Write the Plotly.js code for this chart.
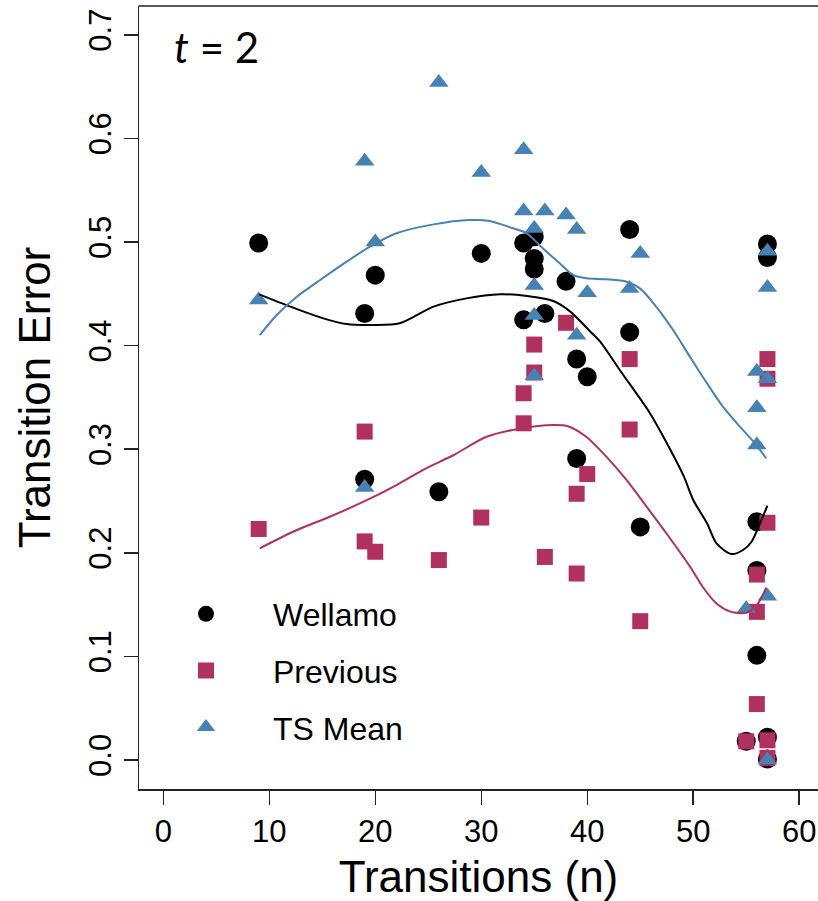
<!DOCTYPE html>
<html>
<head>
<meta charset="utf-8">
<script src="https://cdn.plot.ly/plotly-3.0.1.min.js"></script>
<style>html,body{margin:0;padding:0;background:#fff;}</style>
</head>
<body>
<div id="chart" style="width:818px;height:901px;"></div>
<script>
// ---- data ----
const wellamoX = [9, 19, 19, 20, 26, 30, 34, 34, 35, 35, 35, 36, 38, 39, 39, 40, 44, 44, 45, 55, 56, 56, 56, 57, 57, 57, 57];
const wellamoY = [0.499, 0.431, 0.271, 0.468, 0.259, 0.489, 0.499, 0.425, 0.505, 0.484, 0.474, 0.431, 0.462, 0.387, 0.291, 0.370, 0.512, 0.413, 0.225, 0.018, 0.230, 0.183, 0.101, 0.498, 0.485, 0.022, 0.001];

const previousX = [9, 19, 19, 20, 26, 30, 34, 34, 35, 35, 36, 38, 39, 39, 40, 44, 44, 45, 55, 56, 56, 56, 57, 57, 57, 57, 57];
const previousY = [0.223, 0.317, 0.211, 0.201, 0.193, 0.234, 0.354, 0.325, 0.401, 0.374, 0.196, 0.422, 0.257, 0.180, 0.276, 0.387, 0.319, 0.134, 0.018, 0.179, 0.143, 0.054, 0.387, 0.368, 0.229, 0.019, 0.002];

const tsMeanX = [9, 19, 19, 20, 26, 30, 34, 34, 35, 35, 35, 35, 36, 38, 39, 39, 40, 44, 45, 55, 56, 56, 56, 57, 57, 57, 57, 57];
const tsMeanY = [0.444, 0.578, 0.263, 0.500, 0.654, 0.567, 0.589, 0.530, 0.513, 0.458, 0.429, 0.371, 0.530, 0.526, 0.512, 0.410, 0.451, 0.455, 0.489, 0.146, 0.375, 0.340, 0.304, 0.491, 0.456, 0.368, 0.158, 0.000];

// smoothed curves
const wellamoFitX = [9.05, 12, 15.1, 17.3, 19.8, 22.3, 25.5, 28.6, 31.8, 34.3, 36.8, 38.4, 40.3, 41.2, 43.1, 45.9, 47.5, 49.1, 50, 51.3, 52.2, 53.6, 54.7, 55.5, 56.3, 57];
const wellamoFitY = [0.4495, 0.4376, 0.4263, 0.4208, 0.4199, 0.4215, 0.4376, 0.4456, 0.4495, 0.4479, 0.443, 0.4328, 0.4134, 0.404, 0.376, 0.335, 0.306, 0.274, 0.251, 0.2285, 0.209, 0.1988, 0.2027, 0.2107, 0.2285, 0.2455];

const previousFitX = [9.1, 12.6, 15.7, 18.9, 22, 24.7, 27.4, 30.5, 33.7, 36.8, 38.1, 39.9, 41.8, 43.7, 45.6, 47.7, 49.7, 50.9, 52.2, 53.5, 55, 56, 56.9];
const previousFitY = [0.2043, 0.222, 0.2348, 0.2493, 0.2654, 0.281, 0.2944, 0.312, 0.320, 0.3234, 0.3224, 0.312, 0.2928, 0.2703, 0.2445, 0.2155, 0.1866, 0.167, 0.151, 0.1432, 0.142, 0.1496, 0.1665];

const tsMeanFitX = [9.1, 10.7, 12.6, 14.8, 17.3, 19.5, 22, 25.5, 28.9, 30.8, 33, 34.3, 35.8, 37.4, 38.7, 39.9, 41.8, 43.7, 45, 46.5, 48.1, 49.7, 51.3, 52.8, 54.4, 55.7, 56.9];
const tsMeanFitY = [0.410, 0.4295, 0.4472, 0.4633, 0.481, 0.4955, 0.5084, 0.517, 0.5212, 0.5203, 0.5132, 0.5084, 0.494, 0.4794, 0.468, 0.465, 0.464, 0.4617, 0.455, 0.4376, 0.415, 0.389, 0.3636, 0.341, 0.3217, 0.307, 0.291];

const xTicks = [0, 10, 20, 30, 40, 50, 60];
const yTicks = [0, 0.1, 0.2, 0.3, 0.4, 0.5, 0.6, 0.7];
const yTickText = ['0.0', '0.1', '0.2', '0.3', '0.4', '0.5', '0.6', '0.7'];

// ---- styles ----
const cW = '#000000', cP = '#B03060', cT = '#4682B4';
const FONT = 'Liberation Sans, Arial, sans-serif';

const traces = [
  {x: wellamoX, y: wellamoY, type: 'scatter', mode: 'markers', name: 'Wellamo', legendgroup: 'w',
   marker: {symbol: 'circle', size: 19, color: cW}},
  {x: previousX, y: previousY, type: 'scatter', mode: 'markers', name: 'Previous', legendgroup: 'p',
   marker: {symbol: 'square', size: 16, color: cP}},
  {x: tsMeanX, y: tsMeanY, type: 'scatter', mode: 'markers', name: 'TS Mean', legendgroup: 't',
   marker: {symbol: 'triangle-up', size: 17, color: cT}},
  {x: wellamoFitX, y: wellamoFitY, type: 'scatter', mode: 'lines', showlegend: false, hoverinfo: 'skip',
   line: {color: cW, width: 2, shape: 'spline', smoothing: 0.8}},
  {x: previousFitX, y: previousFitY, type: 'scatter', mode: 'lines', showlegend: false, hoverinfo: 'skip',
   line: {color: cP, width: 2, shape: 'spline', smoothing: 0.8}},
  {x: tsMeanFitX, y: tsMeanFitY, type: 'scatter', mode: 'lines', showlegend: false, hoverinfo: 'skip',
   line: {color: cT, width: 2, shape: 'spline', smoothing: 0.8}}
];

const layout = {
  width: 818, height: 901,
  margin: {l: 139, r: 0, t: 6, b: 112, pad: 0},
  paper_bgcolor: '#ffffff', plot_bgcolor: '#ffffff',
  font: {family: FONT, color: '#000000'},
  showlegend: true,
  legend: {
    x: 0, xanchor: 'left', y: 0.2586, yanchor: 'top',
    font: {family: FONT, size: 32, color: '#000000'},
    itemwidth: 124, tracegroupgap: 12, bgcolor: 'rgba(0,0,0,0)', borderwidth: 0
  },
  xaxis: {
    range: [-2.29, 61.77], tickvals: xTicks, ticks: 'outside', ticklen: 14, tickwidth: 1.5, tickcolor: '#222',
    showline: true, linewidth: 1.5, linecolor: '#222', showgrid: false, zeroline: false,
    tickfont: {family: FONT, size: 31, color: '#000'},
    title: {text: 'Transitions (n)', font: {family: FONT, size: 44, color: '#000'}, standoff: 14}
  },
  yaxis: {
    range: [-0.028, 0.7278], tickvals: yTicks, ticktext: yTickText, tickangle: -90,
    ticks: 'outside', ticklen: 14, tickwidth: 1.5, tickcolor: '#222',
    showline: true, linewidth: 1.5, linecolor: '#222', showgrid: false, zeroline: false,
    tickfont: {family: FONT, size: 31, color: '#000'},
    title: {text: 'Transition Error', font: {family: FONT, size: 44, color: '#000'}, standoff: 18}
  },
  shapes: [
    {type: 'line', xref: 'paper', yref: 'paper', x0: 0, x1: 1, y0: 1, y1: 1, line: {color: '#222', width: 1.5}}
  ],
  annotations: [
    {xref: 'paper', yref: 'paper', x: 0.0486, y: 0.948, xanchor: 'left', yanchor: 'middle', showarrow: false,
     text: '<i>t</i> = 2', font: {family: 'Lato, Open Sans, sans-serif', size: 42, color: '#000'}}
  ]
};

Plotly.newPlot('chart', traces, layout, {displayModeBar: false, staticPlot: true});
</script>
</body>
</html>
